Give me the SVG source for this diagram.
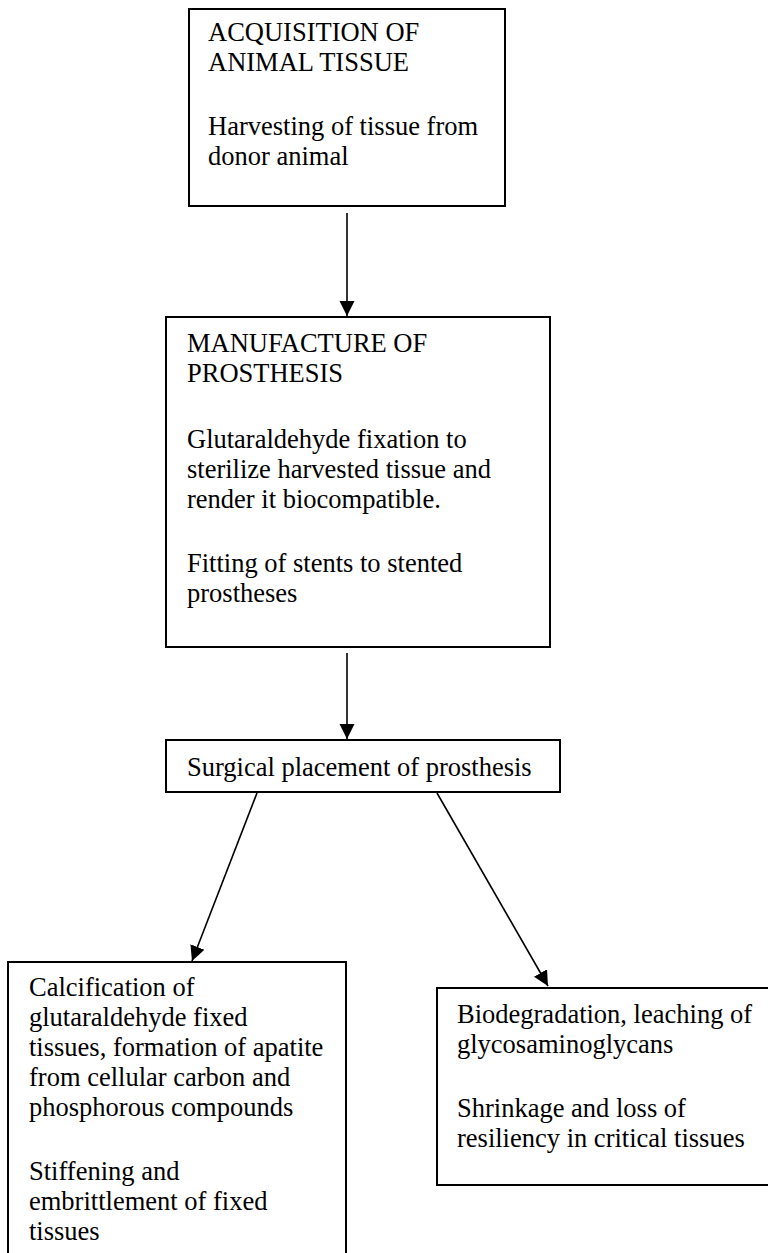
<svg xmlns="http://www.w3.org/2000/svg" width="768" height="1253" viewBox="0 0 768 1253">
<style>
.box{fill:#fff;stroke:#000;stroke-width:2}
.t{font-family:"Liberation Serif","Times New Roman",serif;font-size:26.5px;fill:#000}
.c{stroke:#000;stroke-width:1.6;fill:none}
</style>
<defs>
<marker id="ah" markerUnits="userSpaceOnUse" markerWidth="16" markerHeight="16" viewBox="0 0 16 16" refX="15" refY="8" orient="auto">
<path d="M0,0.5 L15,8 L0,15.5 Z" fill="#000"/>
</marker>
</defs>
<rect width="768" height="1253" fill="#fff"/>
<g id="connectors">
<line class="c" x1="347" y1="213" x2="347" y2="316" marker-end="url(#ah)"/>
<line class="c" x1="347" y1="653" x2="347" y2="739" marker-end="url(#ah)"/>
<line class="c" x1="257" y1="793" x2="192" y2="961" marker-end="url(#ah)"/>
<line class="c" x1="437" y1="793" x2="548" y2="986" marker-end="url(#ah)"/>
</g>
<g id="n1">
<rect class="box" x="189" y="9" width="316" height="197"/>
<text class="t" x="208"><tspan x="208" y="41">ACQUISITION OF</tspan><tspan x="208" y="71">ANIMAL TISSUE</tspan><tspan x="208" y="135">Harvesting of tissue from</tspan><tspan x="208" y="165">donor animal</tspan></text>
</g>
<g id="n2">
<rect class="box" x="166" y="317" width="384" height="330"/>
<text class="t"><tspan x="187" y="352">MANUFACTURE OF</tspan><tspan x="187" y="382">PROSTHESIS</tspan><tspan x="187" y="448">Glutaraldehyde fixation to</tspan><tspan x="187" y="478">sterilize harvested tissue and</tspan><tspan x="187" y="508">render it biocompatible.</tspan><tspan x="187" y="572">Fitting of stents to stented</tspan><tspan x="187" y="602">prostheses</tspan></text>
</g>
<g id="n3">
<rect class="box" x="166" y="740" width="394" height="52"/>
<text class="t" x="187" y="776">Surgical placement of prosthesis</text>
</g>
<g id="n4">
<path class="box" d="M8,1254 L8,962 L346,962 L346,1254"/>
<text class="t"><tspan x="29" y="996">Calcification of</tspan><tspan x="29" y="1026">glutaraldehyde fixed</tspan><tspan x="29" y="1056">tissues, formation of apatite</tspan><tspan x="29" y="1086">from cellular carbon and</tspan><tspan x="29" y="1116">phosphorous compounds</tspan><tspan x="29" y="1180">Stiffening and</tspan><tspan x="29" y="1210">embrittlement of fixed</tspan><tspan x="29" y="1240">tissues</tspan></text>
</g>
<g id="n5">
<path class="box" d="M770,988 L437,988 L437,1185 L770,1185"/>
<text class="t"><tspan x="457" y="1023">Biodegradation, leaching of</tspan><tspan x="457" y="1053">glycosaminoglycans</tspan><tspan x="457" y="1117">Shrinkage and loss of</tspan><tspan x="457" y="1147">resiliency in critical tissues</tspan></text>
</g>
</svg>
